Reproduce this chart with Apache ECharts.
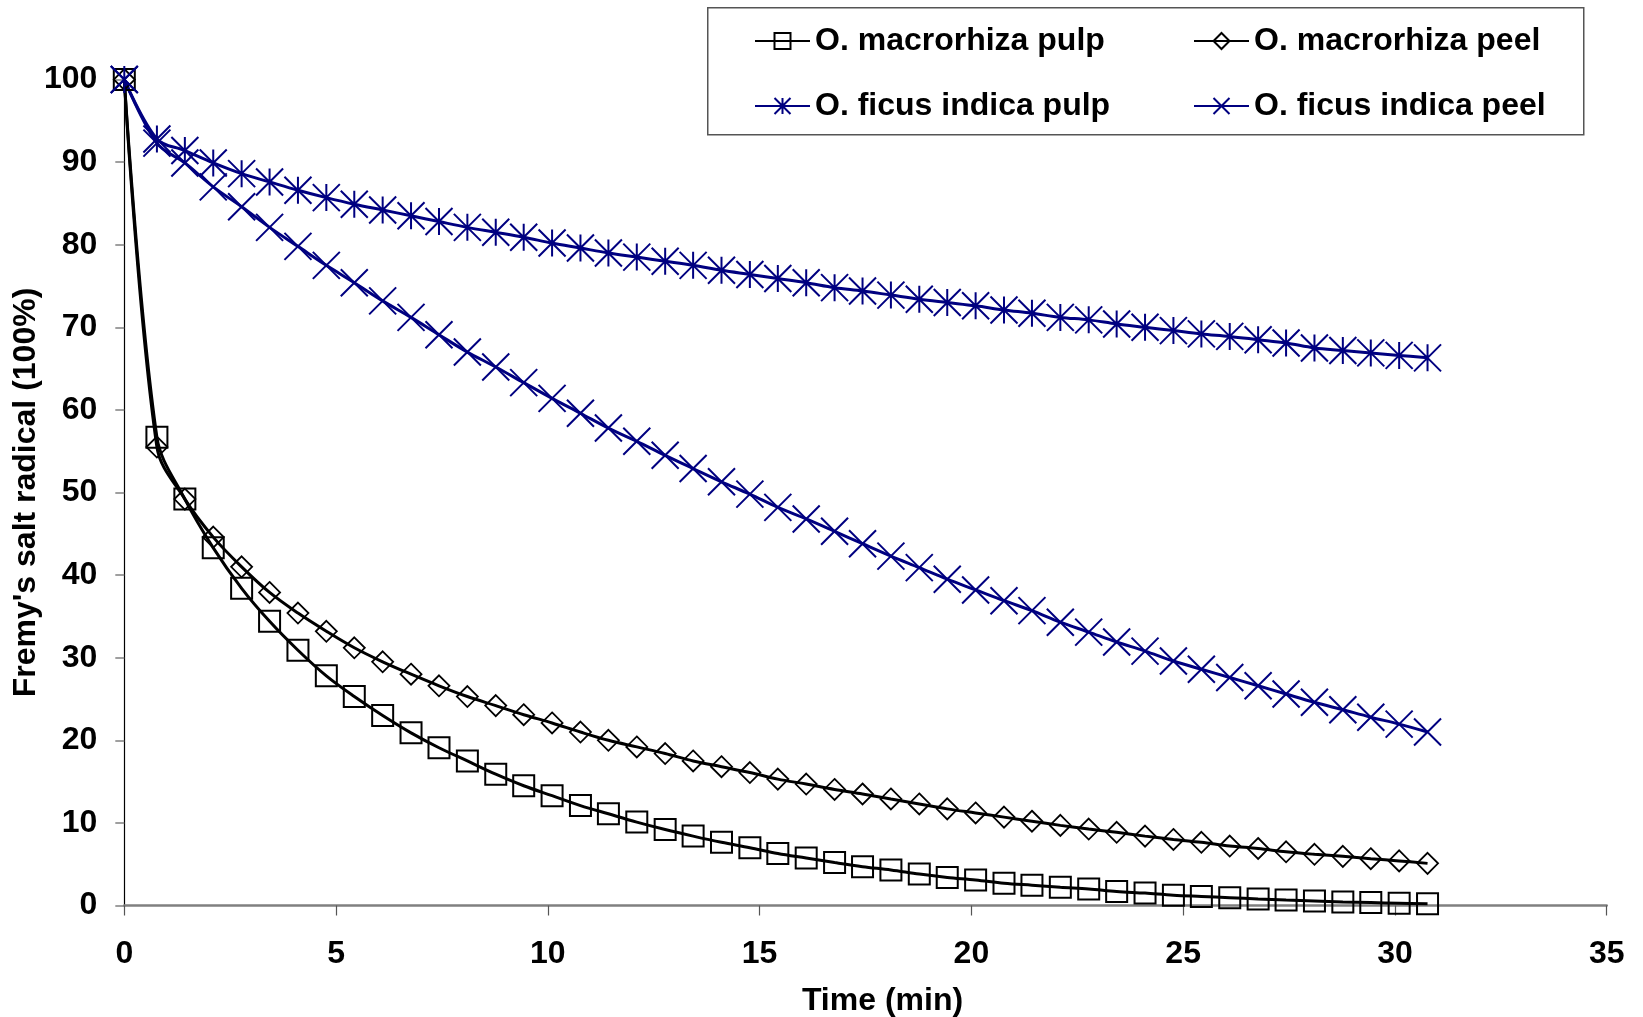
<!DOCTYPE html>
<html><head><meta charset="utf-8">
<script src="https://cdn.jsdelivr.net/npm/echarts@6/dist/echarts.min.js"></script>
<style>html,body{margin:0;padding:0;background:#fff}#c{width:1643px;height:1017px}</style>
</head><body><div id="c"></div>
<script>
const times = [0, 0.77, 1.43, 2.10, 2.77, 3.43, 4.10, 4.77, 5.43, 6.10, 6.77, 7.43, 8.10, 8.77, 9.43, 10.10, 10.77, 11.43, 12.10, 12.77, 13.43, 14.10, 14.77, 15.43, 16.10, 16.77, 17.43, 18.10, 18.77, 19.43, 20.10, 20.77, 21.43, 22.10, 22.77, 23.43, 24.10, 24.77, 25.43, 26.10, 26.77, 27.43, 28.10, 28.77, 29.43, 30.10, 30.77];
const macroPulp = [100, 56.7, 49.2, 43.3, 38.4, 34.4, 30.9, 27.8, 25.3, 23.0, 20.9, 19.1, 17.5, 15.9, 14.5, 13.3, 12.1, 11.1, 10.1, 9.2, 8.4, 7.65, 7.0, 6.3, 5.75, 5.2, 4.7, 4.3, 3.8, 3.4, 3.1, 2.7, 2.45, 2.2, 2.0, 1.7, 1.5, 1.25, 1.1, 0.95, 0.8, 0.67, 0.55, 0.42, 0.35, 0.27, 0.2];
const macroPeel = [100, 55.5, 49.2, 44.6, 41.0, 37.9, 35.4, 33.2, 31.2, 29.5, 28.0, 26.6, 25.3, 24.2, 23.1, 22.1, 21.0, 20.0, 19.2, 18.4, 17.5, 16.8, 16.1, 15.3, 14.7, 14.05, 13.5, 12.9, 12.3, 11.7, 11.2, 10.7, 10.2, 9.7, 9.26, 8.86, 8.4, 8.0, 7.65, 7.2, 6.9, 6.5, 6.2, 5.95, 5.67, 5.4, 5.1];
const ficusPulp = [100, 92.8, 91.4, 89.9, 88.6, 87.6, 86.6, 85.7, 84.9, 84.2, 83.5, 82.8, 82.1, 81.5, 80.9, 80.2, 79.6, 79.0, 78.5, 78.0, 77.5, 76.9, 76.4, 75.9, 75.4, 74.8, 74.4, 73.9, 73.4, 73.0, 72.6, 72.1, 71.7, 71.2, 70.9, 70.4, 70.0, 69.6, 69.2, 68.9, 68.5, 68.1, 67.5, 67.2, 66.9, 66.6, 66.3];
const ficusPeel = [100, 92.3, 89.9, 87.0, 84.6, 82.1, 79.8, 77.5, 75.4, 73.2, 71.2, 69.1, 67.0, 65.2, 63.3, 61.4, 59.6, 57.8, 56.2, 54.5, 52.9, 51.3, 49.8, 48.2, 46.8, 45.3, 43.8, 42.3, 40.9, 39.5, 38.2, 36.9, 35.7, 34.3, 33.1, 31.9, 30.8, 29.6, 28.6, 27.6, 26.6, 25.6, 24.6, 23.7, 22.8, 21.96, 21.0];
const seriesNames = ['O. macrorhiza pulp', 'O. macrorhiza peel', 'O. ficus indica pulp', 'O. ficus indica peel'];
const xAxisTitle = 'Time (min)';
const yAxisTitle = "Fremy's salt radical (100%)";

const FONT = "'Liberation Sans', Arial, sans-serif";
const NAVY = '#000080';
const pairs = arr => times.map((t, i) => [t, arr[i]]);
const CROSS = 'path://M0,0L20,20M20,0L0,20';
const ASTER = 'path://M0,0L20,20M20,0L0,20M10,0L10,20';

function mk(name, arr, color, symbol, size, bw) {
  return {
    name, type: 'line', data: pairs(arr), smooth: 0.35,
    symbol, symbolSize: size, showSymbol: true,
    lineStyle: { color, width: 3 },
    itemStyle: { color: 'rgba(0,0,0,0)', borderColor: color, borderWidth: bw },
    emphasis: { disabled: true }, z: 3
  };
}

const legendText = { fontFamily: FONT, fontWeight: 'bold', fontSize: 32, color: '#000' };
function lg(name, left, top) {
  return { data: [name], left, top, padding: 0, itemWidth: 55, itemHeight: 20, itemGap: 0,
    textStyle: legendText, selectedMode: false };
}

const chart = echarts.init(document.getElementById('c'), null, { renderer: 'canvas' });
chart.setOption({
  animation: false,
  backgroundColor: '#fff',
  grid: { left: 124.3, right: 36.3, top: 79.5, bottom: 111.5, outerBoundsMode: 'none' },
  xAxis: {
    type: 'value', min: 0, max: 35, interval: 5,
    name: xAxisTitle, nameLocation: 'middle', nameGap: 80, nameMoveOverlap: false,
    nameTextStyle: { fontFamily: FONT, fontWeight: 'bold', fontSize: 32, color: '#000', padding: [0, 0, 0, 34] },
    axisLine: { show: true, onZero: false, lineStyle: { color: '#808080', width: 2.5 } },
    axisTick: { show: true, length: 10, lineStyle: { color: '#555', width: 1.2 } },
    axisLabel: { margin: 33, fontFamily: FONT, fontWeight: 'bold', fontSize: 32, color: '#000' },
    splitLine: { show: false }
  },
  yAxis: {
    type: 'value', min: 0, max: 100, interval: 10,
    name: yAxisTitle, nameLocation: 'middle', nameGap: 82, nameMoveOverlap: false,
    nameTextStyle: { fontFamily: FONT, fontWeight: 'bold', fontSize: 32, color: '#000' },
    axisLine: { show: true, lineStyle: { color: '#000', width: 1.2 } },
    axisTick: { show: true, length: 9, lineStyle: { color: '#808080', width: 1.5 } },
    axisLabel: { margin: 27, fontFamily: FONT, fontWeight: 'bold', fontSize: 32, color: '#000' },
    splitLine: { show: false }
  },
  legend: [
    lg(seriesNames[0], 754, 25),
    lg(seriesNames[1], 1193, 25),
    lg(seriesNames[2], 754, 90),
    lg(seriesNames[3], 1193, 90)
  ],
  graphic: [{
    type: 'rect', left: 707, top: 7, z: 0,
    shape: { width: 876, height: 127 },
    style: { fill: '#fff', stroke: '#555', lineWidth: 1.5 }
  }],
  series: [
    mk(seriesNames[0], macroPulp, '#000', 'rect', 21, 2),
    mk(seriesNames[1], macroPeel, '#000', 'diamond', 21, 1.8),
    mk(seriesNames[2], ficusPulp, NAVY, ASTER, 27, 2),
    mk(seriesNames[3], ficusPeel, NAVY, CROSS, 27, 2)
  ]
});
</script></body></html>
